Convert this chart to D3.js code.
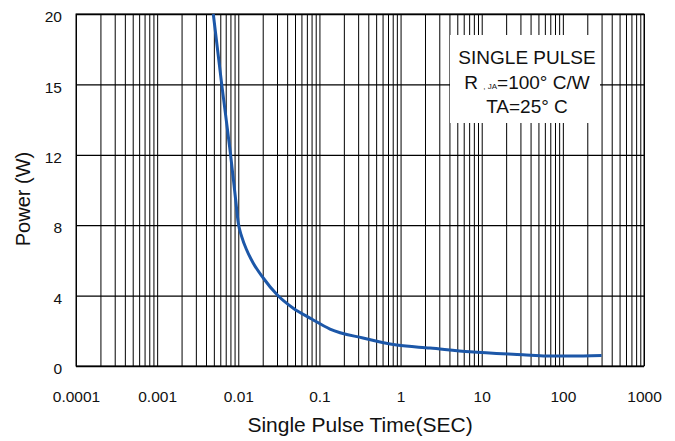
<!DOCTYPE html>
<html>
<head>
<meta charset="utf-8">
<script src="https://cdn.jsdelivr.net/npm/d3@7"></script>
<style>
  body { margin: 0; background: #fff; }
  svg { display: block; font-family: "Liberation Sans", Arial, Helvetica, sans-serif; }
</style>
</head>
<body>
<svg id="chart" width="675" height="441"></svg>
<script>
// Single-pulse power derating curve (time in seconds, power in watts)
const pulseTime = [0.00492, 0.00625, 0.00791, 0.00929, 0.0100, 0.01102, 0.0127, 0.01531, 0.0203,
                   0.0303, 0.0476, 0.0803, 0.135, 0.344, 0.896, 2.31, 7.18, 32.3, 63.2, 122, 300];
const pulsePower = [20, 16.0, 12.27, 9.43, 8.12, 7.35, 6.59, 5.84, 5.0,
                    4.03, 3.28, 2.67, 2.10, 1.59, 1.19, 1.02, 0.81, 0.64, 0.57, 0.57, 0.60];

const xTickValues = [0.0001, 0.001, 0.01, 0.1, 1, 10, 100, 1000];
const xTickLabels = ["0.0001", "0.001", "0.01", "0.1", "1", "10", "100", "1000"];
const yTickValues = [0, 4, 8, 12, 16, 20];
const yTickLabels = ["0", "4", "8", "12", "15", "20"];
const noteLines = ["SINGLE PULSE", "R_JA=100° C/W", "TA=25° C"];

const svg = d3.select("#chart");
const margin = { left: 76, right: 31, top: 14, bottom: 75 };
const W = 675, H = 441;
const plotW = W - margin.left - margin.right;
const plotH = H - margin.top - margin.bottom;

const x = d3.scaleLog().domain([0.0001, 1000]).range([margin.left, margin.left + plotW]);
const y = d3.scaleLinear().domain([0, 20]).range([margin.top + plotH, margin.top]);

// log grid: 1..9 in every decade
const gridX = [];
for (let e = -4; e < 3; e++) {
  for (let k = 1; k <= 9; k++) gridX.push(k * Math.pow(10, e));
}
gridX.push(1000);

const gx = svg.append("g")
  .attr("transform", `translate(0,${margin.top + plotH})`)
  .call(d3.axisBottom(x).tickValues(gridX).tickSize(-plotH).tickFormat(""));
gx.select(".domain").remove();
gx.selectAll("line").attr("stroke", "#000").attr("stroke-width", 1);

const gy = svg.append("g")
  .attr("transform", `translate(${margin.left},0)`)
  .call(d3.axisLeft(y).tickValues(yTickValues).tickSize(-plotW).tickFormat(""));
gy.select(".domain").remove();
gy.selectAll("line").attr("stroke", "#000").attr("stroke-width", 1.3);

// frame
svg.append("rect")
  .attr("x", margin.left).attr("y", margin.top)
  .attr("width", plotW).attr("height", plotH)
  .attr("fill", "none").attr("stroke", "#000").attr("stroke-width", 1);

// x tick labels
const xLab = svg.append("g")
  .attr("transform", `translate(0,${margin.top + plotH})`)
  .call(d3.axisBottom(x).tickValues(xTickValues).tickSize(0).tickPadding(25)
    .tickFormat((d, i) => xTickLabels[i]));
xLab.select(".domain").remove();
xLab.selectAll("text").attr("font-size", 15.5).attr("fill", "#111")
  .attr("font-family", "Liberation Sans, Arial, sans-serif");

// y tick labels
const yLab = svg.append("g")
  .attr("transform", `translate(${margin.left},0)`)
  .call(d3.axisLeft(y).tickValues(yTickValues).tickSize(0).tickPadding(14)
    .tickFormat((d, i) => yTickLabels[i]));
yLab.select(".domain").remove();
yLab.selectAll("text").attr("font-size", 15.5).attr("fill", "#111").attr("dy", "0.5em")
  .attr("font-family", "Liberation Sans, Arial, sans-serif");

// note box
const box = { x0: 450, x1: 600, y0: 35, y1: 123 };
svg.append("rect")
  .attr("x", box.x0).attr("y", box.y0)
  .attr("width", box.x1 - box.x0).attr("height", box.y1 - box.y0)
  .attr("fill", "#fff");

const cx = (box.x0 + box.x1) / 2 + 2;
const noteBase = [64, 89, 113];
svg.append("text").attr("x", cx).attr("y", noteBase[0]).attr("text-anchor", "middle")
  .attr("font-size", 19).attr("fill", "#111").text(noteLines[0]);
const rt = svg.append("text").attr("x", cx).attr("y", noteBase[1]).attr("text-anchor", "middle")
  .attr("font-size", 19).attr("fill", "#111");
const parts = noteLines[1].split("_");
rt.append("tspan").text(parts[0] + " ");
rt.append("tspan").attr("font-size", 8).text(", " + parts[1].slice(0, 2));
rt.append("tspan").text(parts[1].slice(2));
svg.append("text").attr("x", cx).attr("y", noteBase[2]).attr("text-anchor", "middle")
  .attr("font-size", 19).attr("fill", "#111").text(noteLines[2]);

// curve
const line = d3.line()
  .x((d, i) => x(pulseTime[i]))
  .y((d, i) => y(pulsePower[i]))
  .curve(d3.curveMonotoneX);
svg.append("path")
  .datum(pulseTime)
  .attr("d", line)
  .attr("fill", "none")
  .attr("stroke", "#1c57a8")
  .attr("stroke-width", 3)
  .attr("stroke-linejoin", "round");

// axis titles
svg.append("text")
  .attr("x", (margin.left + margin.left + plotW) / 2)
  .attr("y", 432)
  .attr("text-anchor", "middle")
  .attr("font-size", 21).attr("fill", "#111")
  .text("Single Pulse Time(SEC)");

svg.append("text")
  .attr("transform", `translate(30,${margin.top + plotH / 2 + 9}) rotate(-90)`)
  .attr("text-anchor", "middle")
  .attr("font-size", 20).attr("fill", "#111")
  .text("Power (W)");

svg.append("text")
  .attr("x", -5).attr("y", 388)
  .attr("font-size", 16).attr("fill", "#111")
  .text(")");
</script>
</body>
</html>
